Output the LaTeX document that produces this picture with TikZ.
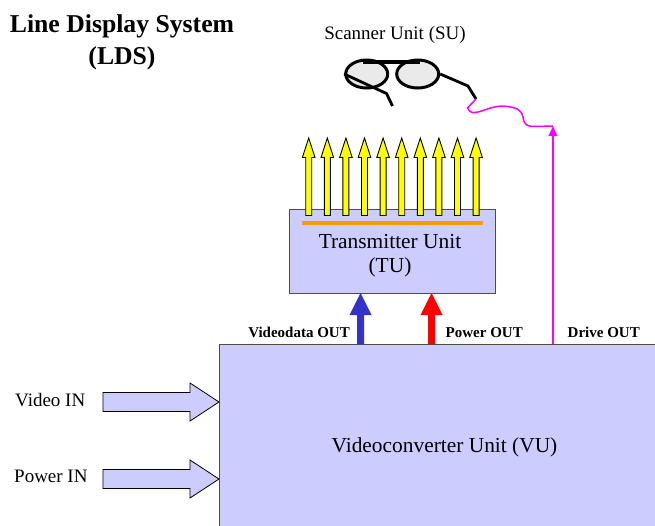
\documentclass[tikz,border=0pt]{standalone}
\usepackage{fontspec}
\usetikzlibrary{shapes.geometric}
\setmainfont{Liberation Serif}
\definecolor{boxfill}{RGB}{204,204,255}
\definecolor{vidblue}{RGB}{51,51,204}
\definecolor{glassfill}{RGB}{234,234,234}
\definecolor{stripe}{RGB}{255,153,0}
\definecolor{wirecol}{RGB}{255,0,255}
\definecolor{brightyellow}{RGB}{255,255,0}
\definecolor{brightred}{RGB}{255,0,0}
\newcommand{\fs}[2]{\fontsize{#1}{#2}\selectfont}
% style, x, tip y, head base y, bottom y, head half width, shaft half width
\newcommand{\uparr}[7]{\path[#1] (#2-#7,#5) -- (#2-#7,#4) -- (#2-#6,#4) -- (#2,#3) -- (#2+#6,#4) -- (#2+#7,#4) -- (#2+#7,#5) -- cycle;}
\begin{document}
\begin{tikzpicture}[x=1pt,y=-1pt,
  unitbox/.style={draw=black!70!white,line width=1pt,fill=boxfill,inner sep=0pt,align=center},
  plainlabel/.style={inner sep=0pt,font=\fs{19}{23}},
  outlabel/.style={inner sep=0pt,font=\fs{15}{18}\bfseries},
  yellowarr/.style={draw=black,line width=0.9pt,fill=brightyellow,line join=miter},
  inarr/.style={draw=black,line width=0.8pt,fill=boxfill},
  lens/.style={draw=black,line width=3pt,fill=glassfill,ellipse,minimum width=42pt,minimum height=28pt,inner sep=0pt},
  glassframe/.style={line width=2.8pt,black},
  wire/.style={draw=wirecol,line width=1.5pt}]
\useasboundingbox (0,0) rectangle (655,525);
% units
\node[unitbox,minimum width=205.5pt,minimum height=84pt,anchor=north west] (tu) at (289,208.5) {};
\node[align=center,inner sep=0pt,font=\fs{21.4}{24}] (tulabel) at (390,255.5) {Transmitter Unit\\(TU)};
\path[fill=boxfill,draw=black!70!white,line width=1pt] (660,344) -- (219,344) -- (219,530) -- (660,530);
\coordinate (vuanchor) at (219,344);
\node[inner sep=0pt,font=\fs{21.4}{25}] (vulabel) at (444.5,447.5) {Videoconverter Unit (VU)};
% title
\node[align=center,inner sep=0pt,font=\fs{25.7}{32}\bfseries] (title) at (122,42) {Line Display System\\(LDS)};
\node[plainlabel] (su) at (395,34.5) {Scanner Unit (SU)};
% glasses
\node[lens] (lensl) at (366.7,74) {};
\node[lens] (lensr) at (417.7,74) {};
\draw[line width=3.6pt] (363,62) -- (420,62);
\draw[glassframe,line join=round] (lensl.west) -- (386.5,93.5) -- (392.5,106);
\draw[glassframe,line join=round] (lensr.east) -- (468,86) -- (476,99);
% emitters
\foreach \xx in {308.7,327.3,345.9,364.5,383.1,401.7,420.3,438.9,457.5,476.1}
  {\uparr{yellowarr}{\xx}{138}{157.5}{215.5}{6.3}{3}}
\draw[stripe,line width=4pt] (302,222.7) -- (483,222.7);
% power and data
\uparr{fill=vidblue}{360.5}{293}{315}{344}{11}{3.5}
\uparr{fill=brightred}{431.5}{293}{315}{344}{11}{3.5}
% drive
\coordinate (drivebase) at (553,344);
\coordinate (drivetip) at (553,126);
\draw[wire] (drivebase) -- (553,134);
\path[fill=wirecol] (drivetip) -- (557.5,136) -- (548.5,136) -- cycle;
\draw[wire,line join=round] (476,99) -- (467.5,108) .. controls (471,114) and (473,113) .. (480,111.5)
  .. controls (490,108) and (498,105) .. (508,106.5)
  .. controls (518,108) and (522,111) .. (523,117)
  .. controls (524,125) and (527,126.5) .. (535,126.5) -- (drivetip);
% outputs labels
\node[outlabel,anchor=east] (vout) at (350,332.5) {Videodata OUT};
\node[outlabel,anchor=west] (pout) at (445.5,332.5) {Power OUT};
\node[outlabel,anchor=west] (dout) at (567.5,332.5) {Drive OUT};
% inputs
\path[inarr] (103,392.5) -- (190,392.5) -- (190,383) -- (219,402) -- (190,421) -- (190,411.5) -- (103,411.5) -- cycle;
\path[inarr] (103,469.5) -- (190,469.5) -- (190,460) -- (219,479) -- (190,498) -- (190,488.5) -- (103,488.5) -- cycle;
\node[plainlabel,anchor=west] (vin) at (15,400.5) {Video IN};
\node[plainlabel,anchor=west] (pin) at (14,476) {Power IN};
\end{tikzpicture}
\end{document}
